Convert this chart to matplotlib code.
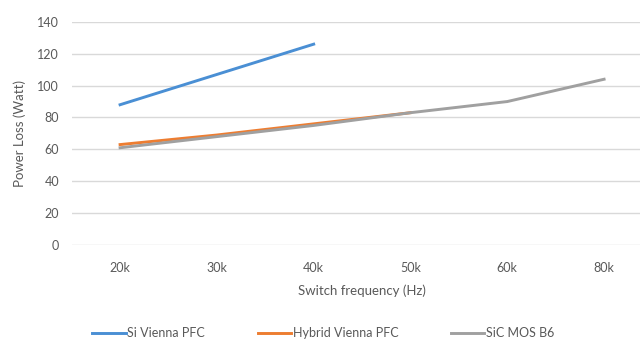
import matplotlib.pyplot as plt

plt.rcParams['font.family'] = ['Lato', 'DejaVu Sans']

freqs = ["20k", "30k", "40k", "50k", "60k", "80k"]
si_vienna = [88, 107, 126]
hybrid_vienna = [63, 69, 76, 83]
sic_mos_b6 = [61, 68, 75, 83, 90, 104]

text_color = "#595959"
grid_color = "#d9d9d9"

fig = plt.figure(figsize=(6.4, 3.47), dpi=100)
ax = fig.add_axes([0.112, 0.294, 0.9075, 0.643])

x = list(range(len(freqs)))
ax.plot(x[:len(si_vienna)], si_vienna, color="#4a8fd4", lw=2.1, label="Si Vienna PFC")
ax.plot(x[:len(hybrid_vienna)], hybrid_vienna, color="#ed7d31", lw=2.1, label="Hybrid Vienna PFC")
ax.plot(x, sic_mos_b6, color="#a0a0a0", lw=2.1, label="SiC MOS B6")

ax.set_xlim(-0.5, len(freqs) - 0.5)
ax.set_ylim(0, 140)
ax.set_yticks(range(0, 141, 20))
ax.set_xticks(x)
ax.set_xticklabels(freqs)
ax.grid(axis="y", color=grid_color, lw=1)
ax.set_axisbelow(True)
for s in ax.spines.values():
    s.set_visible(False)
ax.tick_params(length=0, colors=text_color, labelsize=9)
ax.tick_params(axis="x", pad=12)
ax.tick_params(axis="y", pad=9)

ax.set_xlabel("Switch frequency (Hz)", color=text_color, fontsize=9.5, labelpad=8)
ax.set_ylabel("Power Loss (Watt)", color=text_color, fontsize=9.5, labelpad=8)

fig.legend(loc="lower center", bbox_to_anchor=(0.505, -0.01), ncol=3, frameon=False,
           fontsize=9, labelcolor=text_color, handlelength=2.7, handletextpad=0.1,
           columnspacing=4.2)

fig.savefig("out.png", dpi=100)
